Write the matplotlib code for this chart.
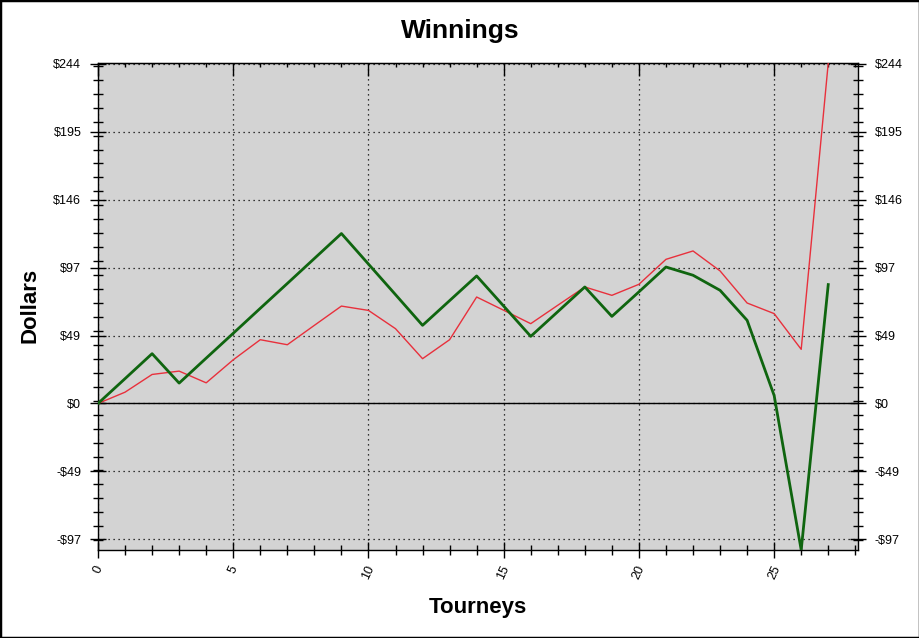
import matplotlib.pyplot as plt
from matplotlib.ticker import MultipleLocator
from matplotlib.patches import Rectangle

plt.rcParams['font.family'] = ['Liberation Sans', 'DejaVu Sans']

tourneys = list(range(28))
green_vals = [0, 17.8, 35.7, 14.6, 32.5, 50.3, 68.2, 86.0, 103.9, 121.8,
              99.9, 78.0, 56.0, 73.7, 91.4, 69.8, 48.1, 65.8, 83.5, 62.4,
              80.0, 97.8, 91.9, 81.1, 59.6, 5.7, -105.0, 85.2]
red_vals = [0, 8.1, 20.8, 23.2, 14.8, 31.3, 45.7, 42.1, 56.0, 69.8,
            66.7, 53.6, 32.1, 45.7, 76.3, 66.8, 57.2, 70.4, 83.5, 77.5,
            85.4, 103.3, 109.3, 95.0, 72.0, 64.4, 38.8, 244.0]
ytick_vals = [-97.4, -48.7, 0, 48.7, 97.4, 146.1, 194.8, 243.5]
ytick_labels = ['-$97', '-$49', '$0', '$49', '$97', '$146', '$195', '$244']
xtick_vals = [0, 5, 10, 15, 20, 25]

fig = plt.figure(figsize=(9.2, 6.38), dpi=100)
ax = fig.add_axes([98 / 920, 1 - 550 / 638, 760 / 920, 487 / 638])
ax.set_facecolor('#d3d3d3')

ax.plot(tourneys, red_vals, color='#e8303c', lw=1.0, zorder=3)
ax.plot(tourneys, green_vals, color='#0f650f', lw=2.0, zorder=4)
ax.axhline(0, color='black', lw=1.0, zorder=2)

ax.set_xlim(0, 28.1)
ax.set_ylim(-105, 244)

ax.set_xticks(xtick_vals)
ax.set_xticklabels([str(v) for v in xtick_vals], rotation=65)
ax.xaxis.set_minor_locator(MultipleLocator(1))
ax.set_yticks(ytick_vals)
ax.set_yticklabels(ytick_labels)
ax.yaxis.set_minor_locator(MultipleLocator(10, offset=2))

ax.grid(True, which='major', color='black', linestyle=(0, (1, 3)), lw=0.9)
ax.tick_params(axis='both', which='both', direction='inout', labelsize=9,
               colors='black')
ax.tick_params(axis='both', which='major', length=12, width=1)
ax.tick_params(axis='both', which='minor', length=7, width=1)
ax.tick_params(axis='y', which='both', right=True, labelright=True, pad=6)
ax.tick_params(axis='x', which='major', pad=4)

# top axis: ticks only inside
top = ax.secondary_xaxis('top')
top.set_xticks(xtick_vals)
top.xaxis.set_minor_locator(MultipleLocator(1))
top.tick_params(which='both', direction='in', labeltop=False, width=1)
top.tick_params(which='major', length=9)
top.tick_params(which='minor', length=3)
for sp in ax.spines.values():
    sp.set_linewidth(1)

fig.text(0.5, 1 - 31 / 638, 'Winnings', ha='center', va='center',
         fontsize=19, fontweight='bold')
fig.text(478 / 920, 1 - 607 / 638, 'Tourneys', ha='center', va='center',
         fontsize=16, fontweight='bold')
fig.text(30 / 920, 1 - 305 / 638, 'Dollars', ha='center', va='center',
         rotation=90, fontsize=16, fontweight='bold')

fig.patches.append(Rectangle((0, 0), 1, 1, transform=fig.transFigure,
                             fill=False, edgecolor='black', lw=2.5))

fig.savefig('out.png', dpi=100)
